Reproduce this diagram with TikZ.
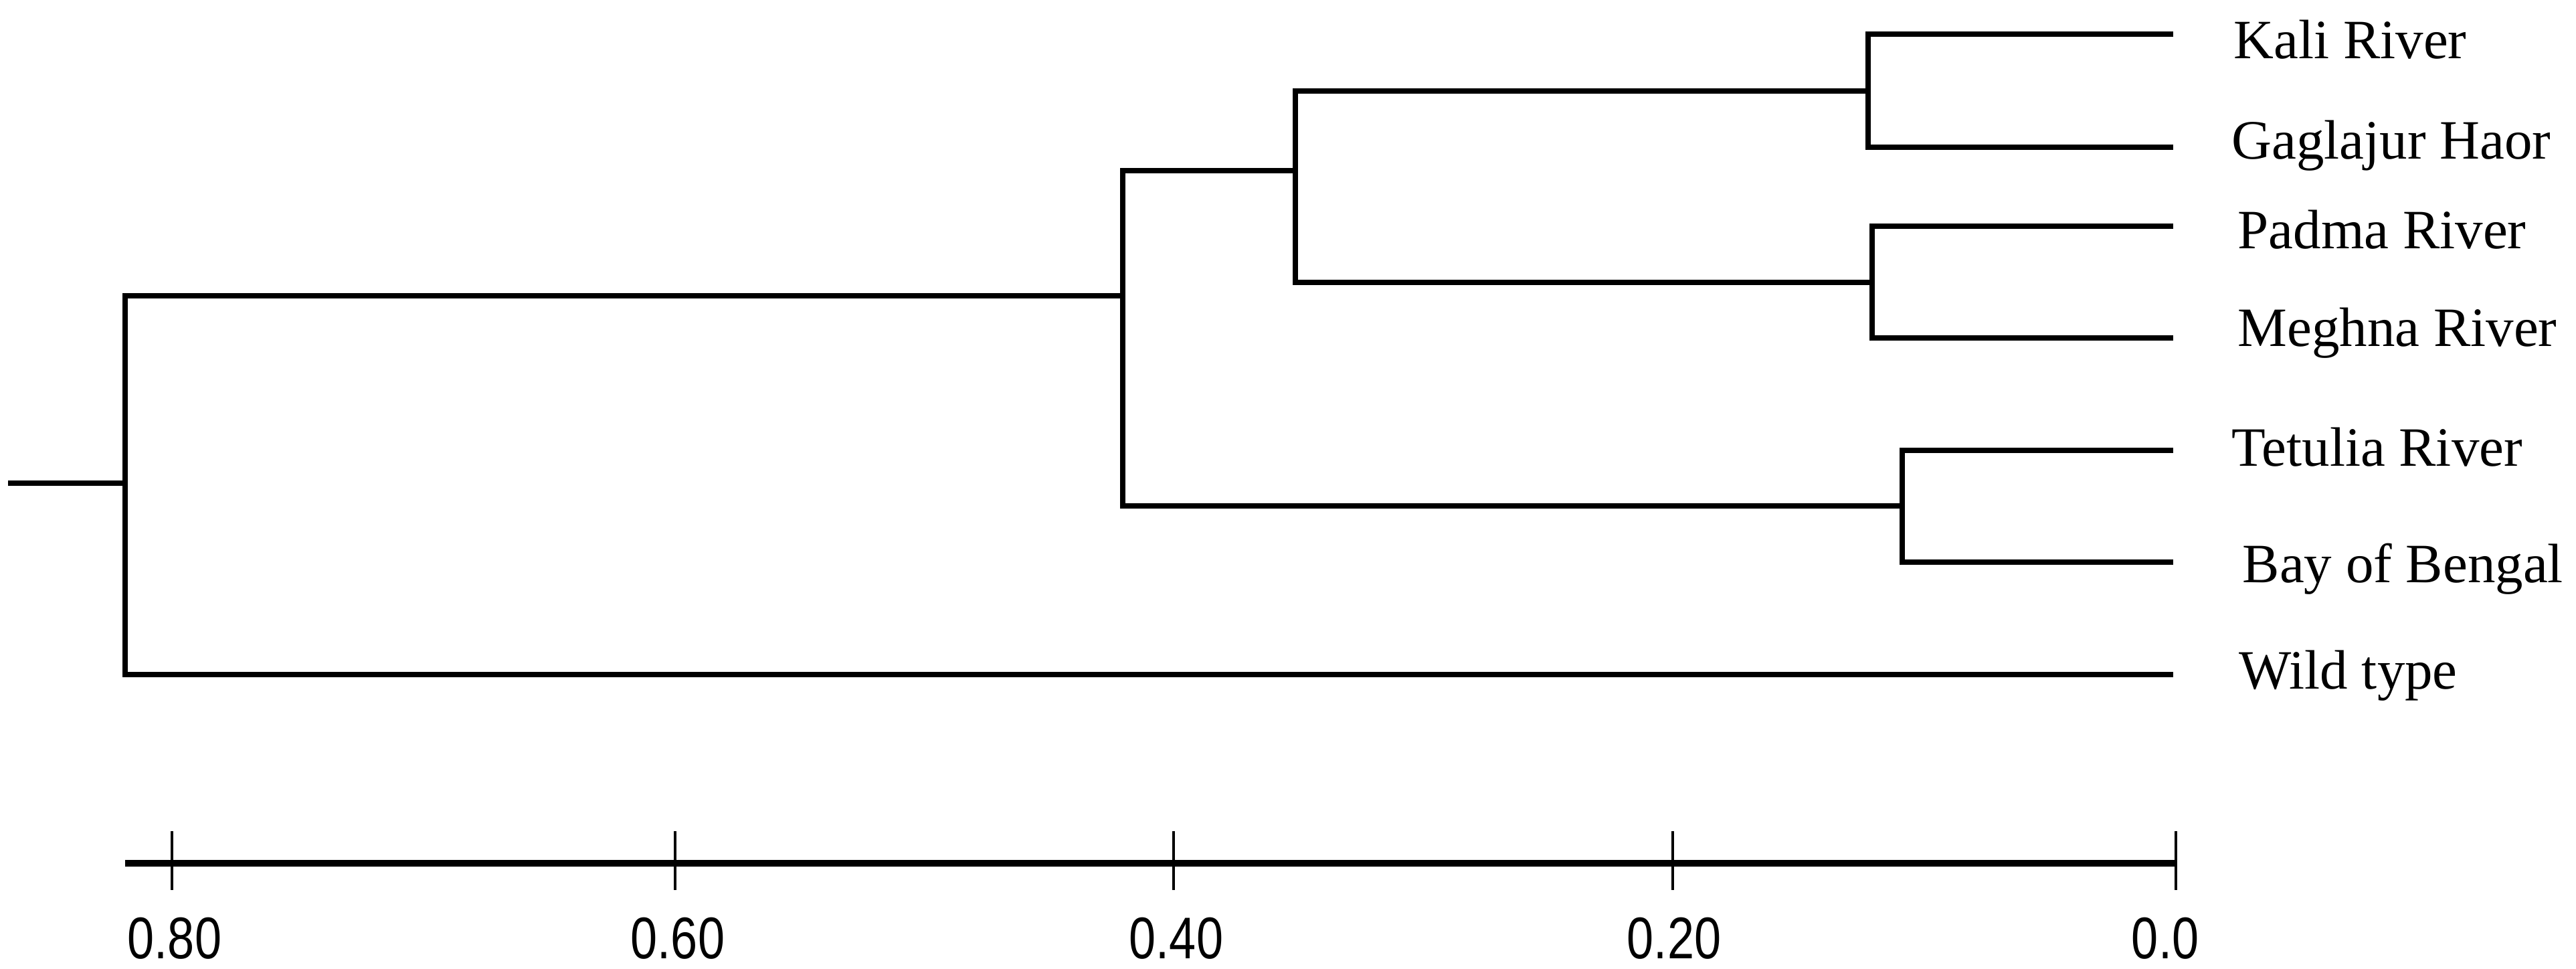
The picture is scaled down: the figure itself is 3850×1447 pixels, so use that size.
\documentclass[tikz,border=0pt]{standalone}
\usepackage{fontspec}
\setmainfont{Liberation Serif}
\newfontfamily\axisfont[FakeStretch=0.82]{Liberation Sans}
\begin{document}
\begin{tikzpicture}[x=0.1mm,y=-0.1mm,
    branch/.style={line width=0.75mm},
    leaf/.style={anchor=base west, inner sep=0pt, font=\fontsize{23.6}{28}\selectfont},
    axisline/.style={line width=0.95mm},
    tickmark/.style={line width=0.35mm},
    ticklabel/.style={anchor=base, inner sep=0pt, font=\axisfont\fontsize{25}{30}\selectfont}]
  \useasboundingbox (0,0) rectangle (3850,1447);
  % leaf tips
  \coordinate (kali) at (3248,51);
  \coordinate (gaglajur) at (3248,220);
  \coordinate (padma) at (3248,338);
  \coordinate (meghna) at (3248,505);
  \coordinate (tetulia) at (3248,673);
  \coordinate (bay) at (3248,840);
  \coordinate (wild) at (3248,1008);
  % joins
  \coordinate (d) at (2792,136);
  \coordinate (e) at (2798,422);
  \coordinate (f) at (2843,756);
  \coordinate (c) at (1936,255);
  \coordinate (b) at (1678,442);
  \coordinate (r) at (187,722);
  \coordinate (stub) at (12,722);
  \begin{scope}[branch]
    \draw (kali) -| (d) |- (gaglajur);
    \draw (padma) -| (e) |- (meghna);
    \draw (tetulia) -| (f) |- (bay);
    \draw (d) -| (c) |- (e);
    \draw (c) -| (b) |- (f);
    \draw (b) -| (r) |- (wild);
    \draw (r) -- (stub);
  \end{scope}
  % labels
  \node[leaf] (kalilabel) at (3338,87) {Kali River};
  \node[leaf] (gaglajurlabel) at (3335,237) {Gaglajur Haor};
  \node[leaf] (padmalabel) at (3344,371) {Padma River};
  \node[leaf] (meghnalabel) at (3344,517) {Meghna River};
  \node[leaf] (tetulialabel) at (3335,696) {Tetulia River};
  \node[leaf] (baylabel) at (3351,870) {Bay of Bengal};
  \node[leaf] (wildlabel) at (3346,1029) {Wild type};
  % scale
  \coordinate (ax0) at (187,1290);
  \coordinate (ax1) at (3252,1290);
  \draw[axisline] (ax0) -- (ax1);
  \draw[tickmark] (257,1242) -- (257,1330);
  \draw[tickmark] (1009,1242) -- (1009,1330);
  \draw[tickmark] (1754,1242) -- (1754,1330);
  \draw[tickmark] (2500,1242) -- (2500,1330);
  \draw[tickmark] (3252,1242) -- (3252,1330);
  \node[ticklabel] (t80) at (261,1432) {0.80};
  \node[ticklabel] (t60) at (1013,1432) {0.60};
  \node[ticklabel] (t40) at (1758,1432) {0.40};
  \node[ticklabel] (t20) at (2502,1432) {0.20};
  \node[ticklabel] (t00) at (3236,1432) {0.0};
\end{tikzpicture}
\end{document}
